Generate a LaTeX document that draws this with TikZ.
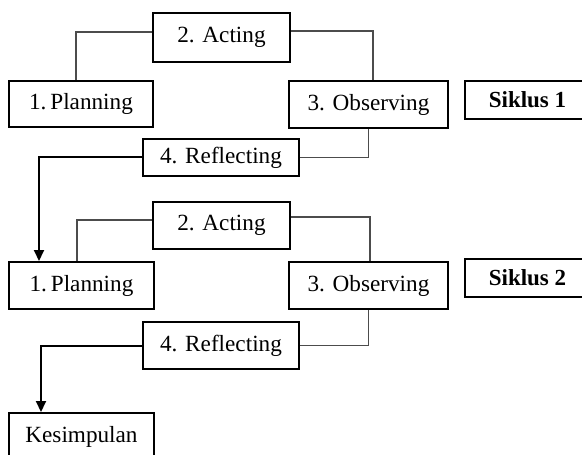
\documentclass[tikz,border=0pt]{standalone}
\usepackage{fontspec}
\setmainfont{Liberation Serif}
\usetikzlibrary{arrows.meta}
\begin{document}
\begin{tikzpicture}[x=0.5pt,y=-0.5pt,
  box/.style={draw=black,line width=1pt,inner sep=0pt,font=\fontsize{11.6pt}{13pt}\selectfont,fill=white},
  thin/.style={draw=black!70,line width=0.55pt},
  thickarrow/.style={draw=black,line width=1pt,-{Triangle[length=5.5pt,width=5pt]}}]
\useasboundingbox (0,0) rectangle (582,454);
% cycle 1
\node[box,minimum width=68.5pt,minimum height=24.5pt] (A1) at (221.5,37.5) {2. Acting};
\node[box,minimum width=72pt,minimum height=23pt] (P1) at (81,104) {1.\,Planning};
\node[box,minimum width=79.5pt,minimum height=23.5pt] (O1) at (368.5,104.5) {3. Observing};
\node[box,minimum width=62.5pt,minimum height=19pt,font=\fontsize{11.5pt}{13pt}\selectfont\bfseries] (S1) at (527.5,100) {Siklus 1};
\node[box,minimum width=78pt,minimum height=18.5pt] (R1) at (221,157.5) {\raisebox{-2pt}{4. Reflecting}};
% cycle 2
\node[box,minimum width=68.5pt,minimum height=23.5pt] (A2) at (221.5,225.5) {2. Acting};
\node[box,minimum width=72.5pt,minimum height=23.5pt] (P2) at (81.5,285.5) {1.\,Planning};
\node[box,minimum width=79.5pt,minimum height=23.5pt] (O2) at (368.5,285.5) {3. Observing};
\node[box,minimum width=62.5pt,minimum height=19pt,font=\fontsize{11.5pt}{13pt}\selectfont\bfseries] (S2) at (527.5,278) {Siklus 2};
\node[box,minimum width=78pt,minimum height=23.5pt] (R2) at (221,345.5) {4. Reflecting};
\node[box,minimum width=72.5pt,minimum height=23.5pt] (K) at (81.5,436.5) {Kesimpulan};
% connectors cycle 1
\draw[thin] ([xshift=-2.5pt]P1.north) |- ([yshift=2.75pt]A1.west);
\draw[thin] ([yshift=3.25pt]A1.east) -| ([xshift=2.25pt]O1.north);
\draw[thin] (O1.south) |- (R1.east);
\draw[thickarrow] (R1.west) -| ([xshift=-21.25pt]P2.north);
% connectors cycle 2
\draw[thin] ([xshift=-2.25pt]P2.north) |- ([yshift=2.75pt]A2.west);
\draw[thin] ([yshift=4.25pt]A2.east) -| ([xshift=0.75pt]O2.north);
\draw[thin] (O2.south) |- (R2.east);
\draw[thickarrow] (R2.west) -| ([xshift=-20.25pt]K.north);
\end{tikzpicture}
\end{document}
